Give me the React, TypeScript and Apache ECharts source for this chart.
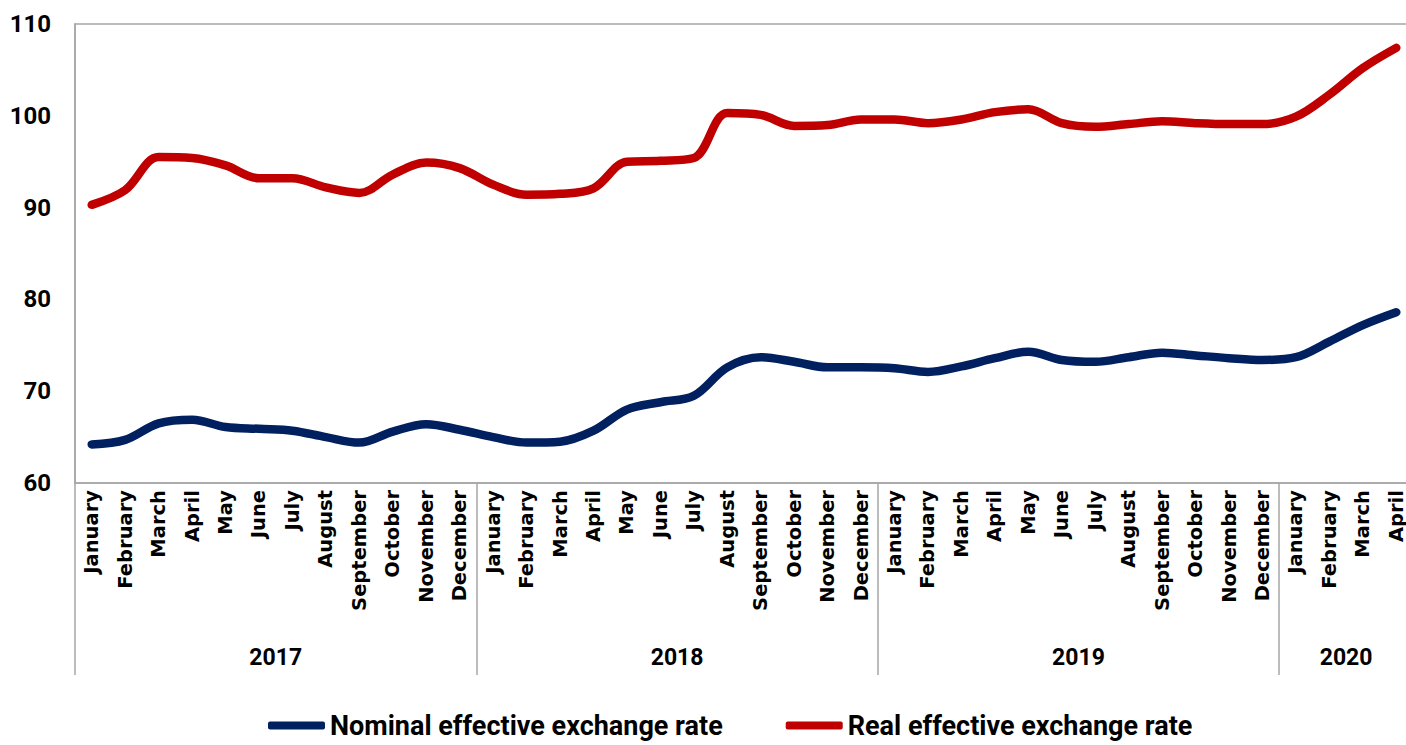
import React, { useEffect, useRef } from "react";
import * as echarts from "echarts";

const MONTHS = ["January","February","March","April","May","June","July","August","September","October","November","December"];
const years = ["2017", "2018", "2019", "2020"];
const monthsPerYear = [12, 12, 12, 4];

const categories: string[] = [];
years.forEach((y, yi) => {
  for (let m = 0; m < monthsPerYear[yi]; m++) categories.push(y + "|" + MONTHS[m]);
});

const nominal = [
  64.2, 64.7, 66.5, 66.9, 66.1, 65.9, 65.7, 65.0, 64.4, 65.6, 66.4, 65.8,
  65.0, 64.4, 64.5, 65.7, 68.0, 68.8, 69.5, 72.6, 73.7, 73.2, 72.6, 72.6,
  72.5, 72.1, 72.7, 73.6, 74.3, 73.4, 73.2, 73.7, 74.2, 73.9, 73.6, 73.4,
  73.7, 75.4, 77.2, 78.6,
];

const real = [
  90.3, 91.9, 95.5, 95.4, 94.6, 93.2, 93.2, 92.2, 91.6, 93.6, 94.9, 94.3,
  92.5, 91.4, 91.5, 92.1, 95.0, 95.1, 95.4, 100.3, 100.1, 98.9, 99.0, 99.6,
  99.6, 99.2, 99.6, 100.4, 100.7, 99.2, 98.8, 99.1, 99.4, 99.2, 99.1, 99.1,
  99.9, 102.3, 105.2, 107.4,
];

const yTicks = { min: 60, max: 110, interval: 10 };

export default function App() {
  const ref = useRef<HTMLDivElement>(null);
  useEffect(() => {
    if (!ref.current) return;
    const chart = echarts.init(ref.current, null, { renderer: "svg" });
    const yearStart: number[] = [];
    let acc = 0;
    monthsPerYear.forEach((n) => { yearStart.push(acc); acc += n; });
    const option: any = {
      animation: false,
      backgroundColor: "#ffffff",
      grid: {
        left: 75,
        top: 24,
        width: 1338,
        height: 459,
        show: true,
        borderColor: "#a6a6a6",
        borderWidth: 1.5,
        containLabel: false,
      },
      legend: {
        top: 712,
        left: 268,
        padding: 0,
        itemWidth: 57,
        itemHeight: 8,
        itemGap: 63,
        itemTextGap: 3,
        icon: "roundRect",
        textStyle: { fontFamily: "Roboto", fontWeight: "bold", fontSize: 27, color: "#000" },
        data: ["Nominal effective exchange rate", "Real effective exchange rate"],
      },
      xAxis: {
        type: "category",
        data: categories,
        boundaryGap: true,
        axisLine: { show: true, lineStyle: { color: "#a6a6a6", width: 1.5 } },
        axisTick: {
          show: true,
          alignWithLabel: false,
          length: 192,
          interval: (index: number) => yearStart.indexOf(index) >= 0,
          lineStyle: { color: "#a6a6a6", width: 1.5 },
        },
        axisLabel: {
          interval: 0,
          rotate: 90,
          margin: 7,
          fontFamily: "DejaVu Sans",
          fontWeight: "bold",
          fontSize: 19.5,
          color: "#000",
          formatter: (v: string) => v.split("|")[1],
        },
        splitLine: { show: false },
      },
      yAxis: {
        type: "value",
        min: yTicks.min,
        max: yTicks.max,
        interval: yTicks.interval,
        axisLine: { show: true, lineStyle: { color: "#a6a6a6", width: 1.5 } },
        axisTick: { show: false },
        splitLine: { show: false },
        axisLabel: {
          margin: 24,
          fontFamily: "Roboto",
          fontWeight: "bold",
          fontSize: 24,
          color: "#000",
        },
      },
      series: [
        {
          name: "Nominal effective exchange rate",
          type: "line",
          data: nominal,
          smooth: 0.35,
          symbol: "none",
          itemStyle: { color: "#002060" },
          lineStyle: { color: "#002060", width: 8.5, cap: "round", join: "round" },
        },
        {
          name: "Real effective exchange rate",
          type: "line",
          data: real,
          smooth: 0.35,
          symbol: "none",
          itemStyle: { color: "#C00000" },
          lineStyle: { color: "#C00000", width: 8.5, cap: "round", join: "round" },
        },
      ],
    };
    chart.setOption(option);

    const baseY = chart.convertToPixel({ yAxisIndex: 0 }, yTicks.min) as number;
    const graphics: any[] = years.map((y, yi) => {
      const first = yearStart[yi];
      const last = first + monthsPerYear[yi] - 1;
      const x0 = chart.convertToPixel({ xAxisIndex: 0 }, first) as number;
      const x1 = chart.convertToPixel({ xAxisIndex: 0 }, last) as number;
      return {
        type: "text",
        x: (x0 + x1) / 2,
        y: baseY + 174,
        style: {
          text: y,
          fontFamily: "Roboto",
          fontWeight: "bold",
          fontSize: 23,
          fill: "#000",
          align: "center",
          verticalAlign: "middle",
        },
      };
    });
    chart.setOption({ graphic: graphics });
    return () => chart.dispose();
  }, []);
  return (
    <div
      ref={ref}
      style={{ position: "fixed", left: 0, top: 0, width: 1420, height: 745, background: "#fff" }}
    />
  );
}
